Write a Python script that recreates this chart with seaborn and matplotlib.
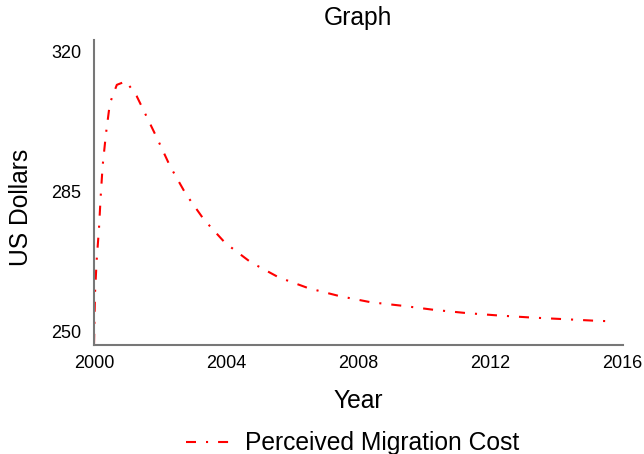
import numpy as np
import pandas as pd
import matplotlib.pyplot as plt
import seaborn as sns

# values
years = [2000.0, 2000.03, 2000.08, 2000.15, 2000.2, 2000.26, 2000.36, 2000.48,
         2000.69, 2000.97, 2001.29, 2001.49, 2001.9, 2002.3, 2002.78, 2003.33,
         2003.97, 2004.74, 2005.59, 2006.49, 2007.44, 2008.37, 2009.34, 2010.28,
         2011.25, 2012.21, 2013.17, 2014.14, 2015.1, 2015.75]
cost = [247.0, 259.7, 267.9, 275.8, 283.6, 291.4, 299.4, 307.1,
        311.7, 312.6, 308.9, 305.5, 298.5, 291.4, 284.4, 278.0,
        272.2, 267.4, 263.6, 260.9, 258.9, 257.4, 256.5, 255.5,
        254.7, 254.1, 253.6, 253.2, 252.8, 252.6]
x_ticks = [2000, 2004, 2008, 2012, 2016]
y_ticks = [250, 285, 320]

sns.set_style("white")
plt.rcParams['font.family'] = ['Liberation Sans', 'DejaVu Sans']
plt.rcParams['text.color'] = 'black'
plt.rcParams['axes.labelcolor'] = 'black'

df = pd.DataFrame({"Year": years, "Cost": cost})

fig = plt.figure(figsize=(6.44, 4.54), dpi=100)
ax = fig.add_axes([0.146, 0.240, 0.821, 0.671])

sns.lineplot(data=df, x="Year", y="Cost", color="red", linewidth=1.5,
             label="Perceived Migration Cost", ax=ax)
line = ax.get_lines()[0]
line.set_dashes((4.8, 4.8, 1.0, 4.8))

ax.set_xlim(2000, 2016)
ax.set_ylim(246.7, 322.8)
ax.set_xticks(x_ticks)
ax.set_yticks(y_ticks)
ax.tick_params(axis='both', length=0, labelsize=13, colors='black')
ax.tick_params(axis='y', pad=9)
ax.tick_params(axis='x', pad=7)

for side in ['top', 'right']:
    ax.spines[side].set_visible(False)
for side in ['left', 'bottom']:
    ax.spines[side].set_color('#777777')
    ax.spines[side].set_linewidth(1.5)

ax.set_title("Graph", fontsize=17.7, pad=11, color='black')
ax.set_xlabel("Year", fontsize=17.7)
ax.set_ylabel("US Dollars", fontsize=17.7)
ax.yaxis.set_label_coords(-0.115, 0.453)
ax.xaxis.set_label_coords(0.5, -0.145)

leg = ax.legend(loc='center', bbox_to_anchor=(0.49, -0.322), frameon=False,
                fontsize=17.7, handlelength=1.8, handletextpad=0.6)

fig.savefig("out.png", dpi=100)
